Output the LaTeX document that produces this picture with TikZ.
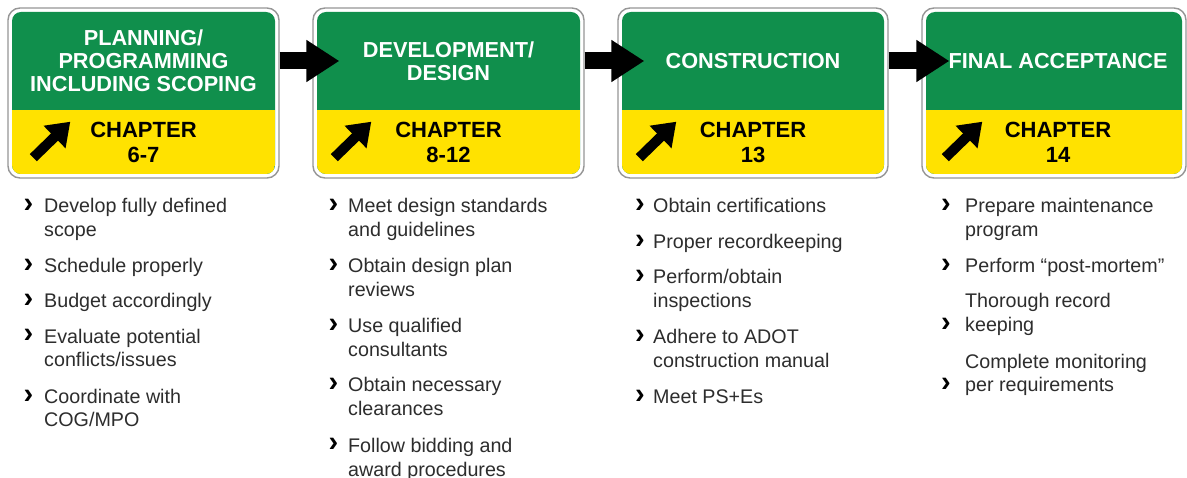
\documentclass[tikz,border=0pt]{standalone}
\usepackage{fontspec}
\setmainfont{Liberation Sans}
\usetikzlibrary{arrows.meta,calc,positioning}
\definecolor{signgreen}{RGB}{16,143,76}
\definecolor{signyellow}{RGB}{255,226,0}
\definecolor{signrim}{RGB}{150,150,150}
\definecolor{itemgray}{RGB}{45,45,45}

\tikzset{
  sign/.style={draw=signrim, line width=1.4pt, fill=white, rounded corners=12pt,
    inner sep=0pt, minimum height=170pt},
  panel/.style={fill=signgreen, rounded corners=9pt, inner sep=0pt, minimum height=162pt,
    path picture={\fill[signyellow, sharp corners] ([yshift=-2pt]path picture bounding box.south west)
      rectangle ([yshift=64pt]path picture bounding box.south east);}},
  head/.style={text=white, font=\bfseries\fontsize{21.7}{23}\selectfont, align=center},
  chapter/.style={text=black, font=\bfseries\fontsize{22}{25}\selectfont, align=center},
  flow/.style={line width=17pt, -{Triangle[length=33pt,width=40pt]}},
  ramp/.style={line width=10pt, -{Triangle[length=22pt,width=30pt]}},
  % multi-line items sit on the baseline of their last line
  item/.style={text=itemgray, font=\fontsize{19.7}{24}\selectfont, anchor=base west,
    align=left, inner sep=0pt},
  chev/.style={font=\bfseries\fontsize{29}{29}\selectfont, anchor=base, inner sep=0pt},
}

\begin{document}
\begin{tikzpicture}[x=1pt,y=-1pt]
    \fill[white] (0,0) rectangle (1187,478);
    \useasboundingbox (0,0) rectangle (1187,478);
    % Draw the signs
    \node[sign, minimum width=271pt] (s1) at (143.5,93) {};
    \node[sign, minimum width=271pt] (s2) at (448.5,93) {};
    \node[sign, minimum width=270pt] (s3) at (753,93) {};
    \node[sign, minimum width=264pt] (s4) at (1054,93) {};
    \node[panel, minimum width=263pt] (p1) at (s1) {};
    \node[panel, minimum width=263pt] (p2) at (s2) {};
    \node[panel, minimum width=262pt] (p3) at (s3) {};
    \node[panel, minimum width=256pt] (p4) at (s4) {};
    % Phase names
    \node[head] (h1) at (143.5,61) {PLANNING/\\PROGRAMMING\\INCLUDING SCOPING};
    \node[head] (h2) at (448.5,61) {DEVELOPMENT/\\DESIGN};
    \node[head] (h3) at (753,61) {CONSTRUCTION};
    \node[head] (h4) at (1058,61) {FINAL ACCEPTANCE};
    % Chapters
    \node[chapter] (c1) at (143.5,142.5) {CHAPTER\\6-7};
    \node[chapter] (c2) at (448.5,142.5) {CHAPTER\\8-12};
    \node[chapter] (c3) at (753,142.5) {CHAPTER\\13};
    \node[chapter] (c4) at (1058,142.5) {CHAPTER\\14};
    % exit arrows
    \draw[ramp] ($(s1.south west)+(26,-21)$) -- ($(s1.south west)+(63,-57)$);
    \draw[ramp] ($(s2.south west)+(22,-21)$) -- ($(s2.south west)+(59,-57)$);
    \draw[ramp] ($(s3.south west)+(22,-21)$) -- ($(s3.south west)+(59,-57)$);
    \draw[ramp] ($(s4.south west)+(24,-21)$) -- ($(s4.south west)+(61,-57)$);
    % phase arrows
    \draw[flow] (s1.east |- h1) -- ($(s2.west |- h2)+(27,0)$);
    \draw[flow] (s2.east |- h2) -- ($(s3.west |- h3)+(27,0)$);
    \draw[flow] (s3.east |- h3) -- ($(s4.west |- h4)+(28,0)$);
    % Tasks
    \node[item] (i11) at (44,237) {Develop fully defined\\scope};
    \node[item] (i12) at (44,273) {Schedule properly};
    \node[item] (i13) at (44,308) {Budget accordingly};
    \node[item] (i14) at (44,367) {Evaluate potential\\conflicts/issues};
    \node[item] (i15) at (44,427) {Coordinate with\\COG/MPO};
    \node[item] (i21) at (348,237) {Meet design standards\\and guidelines};
    \node[item] (i22) at (348,297) {Obtain design plan\\reviews};
    \node[item] (i23) at (348,357) {Use qualified\\consultants};
    \node[item] (i24) at (348,416) {Obtain necessary\\clearances};
    \node[item] (i25) at (348,476) {Follow bidding and\\award procedures};
    \node[item] (i31) at (653,213) {Obtain certifications};
    \node[item] (i32) at (653,249) {Proper recordkeeping};
    \node[item] (i33) at (653,308) {Perform/obtain\\inspections};
    \node[item] (i34) at (653,368) {Adhere to ADOT\\construction manual};
    \node[item] (i35) at (653,404) {Meet PS+Es};
    \node[item] (i41) at (965,237) {Prepare maintenance\\program};
    \node[item] (i42) at (965,273) {Perform “post-mortem”};
    \node[item] (i43) at (965,332) {Thorough record\\keeping};
    \node[item] (i44) at (965,392) {Complete monitoring\\per requirements};
    % bullets
    \node[chev] (b11) at (28.5,213) {›};
    \node[chev] (b12) at (28.5,273) {›};
    \node[chev] (b13) at (28.5,308) {›};
    \node[chev] (b14) at (28.5,343) {›};
    \node[chev] (b15) at (28.5,403) {›};
    \node[chev] (b21) at (333.5,213) {›};
    \node[chev] (b22) at (333.5,273) {›};
    \node[chev] (b23) at (333.5,333) {›};
    \node[chev] (b24) at (333.5,392) {›};
    \node[chev] (b25) at (333.5,452) {›};
    \node[chev] (b31) at (640,213) {›};
    \node[chev] (b32) at (640,249) {›};
    \node[chev] (b33) at (640,284) {›};
    \node[chev] (b34) at (640,344) {›};
    \node[chev] (b35) at (640,404) {›};
    \node[chev] (b41) at (946,213) {›};
    \node[chev] (b42) at (946,273) {›};
    \node[chev] (b43) at (946,332) {›};
    \node[chev] (b44) at (946,392) {›};
\end{tikzpicture}
\end{document}
